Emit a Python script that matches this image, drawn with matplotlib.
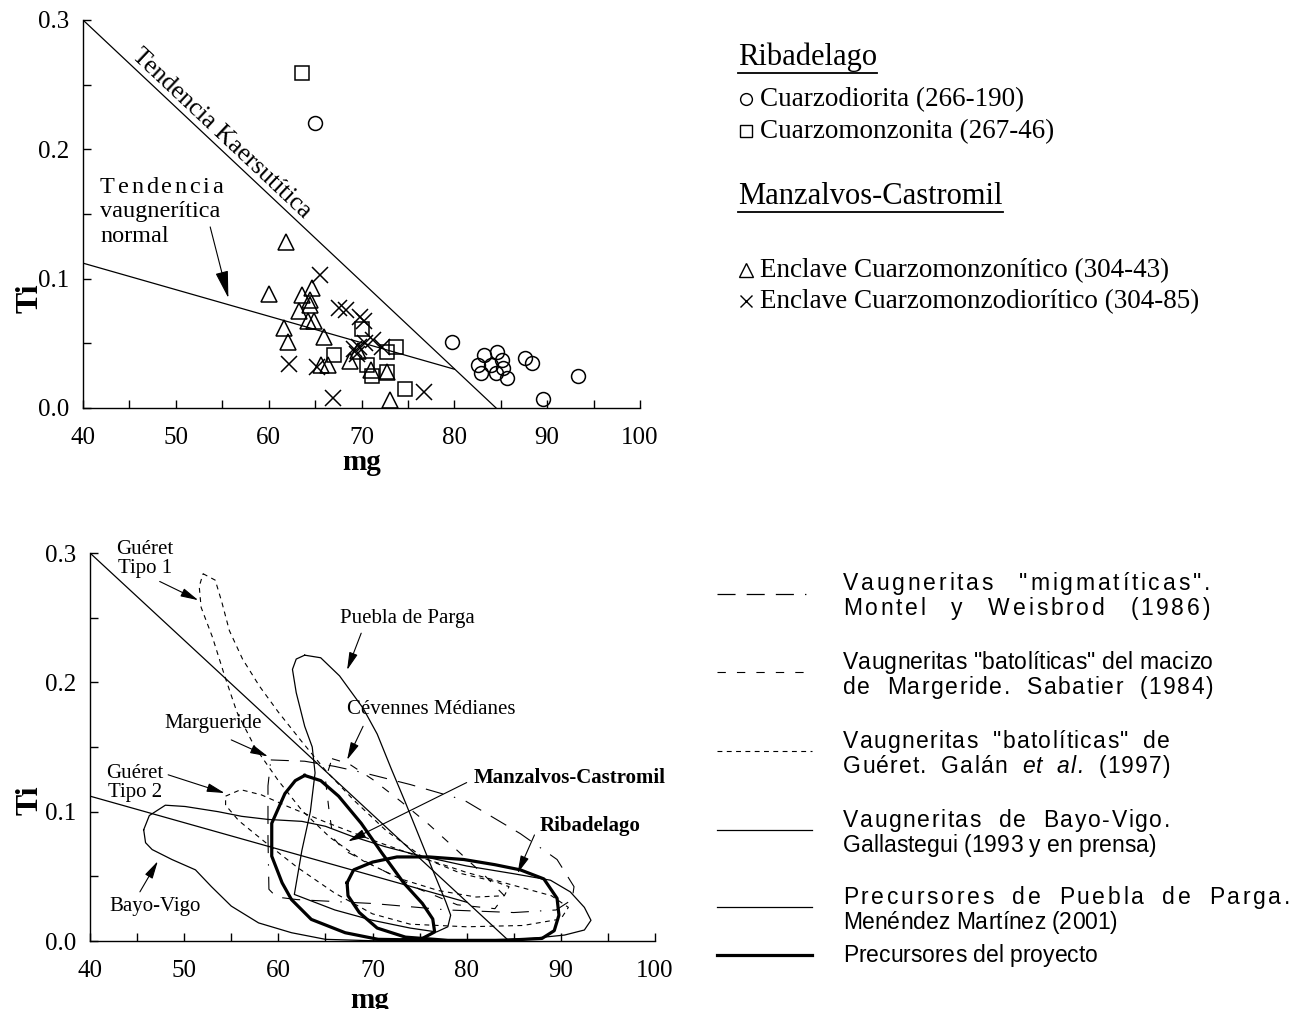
import math
import matplotlib
matplotlib.use("Agg")
import matplotlib.pyplot as plt
import numpy as np

plt.rcParams["font.family"] = ["Liberation Serif", "DejaVu Serif"]
plt.rcParams["lines.scale_dashes"] = False

# ---------------- data: upper diagram (Ti vs mg) ----------------
circ_mg = [65.0, 79.7, 83.2, 84.6, 82.6, 84.0, 85.1, 82.9, 84.5, 85.2, 85.7, 87.6, 88.4, 93.3, 89.5]
circ_ti = [0.220, 0.051, 0.041, 0.043, 0.033, 0.033, 0.037, 0.027, 0.027, 0.031, 0.023, 0.039, 0.035, 0.025, 0.007]

sq_mg = [63.6, 70.0, 67.0, 73.7, 72.7, 70.6, 71.1, 72.7, 74.7]
sq_ti = [0.259, 0.061, 0.041, 0.047, 0.043, 0.033, 0.025, 0.028, 0.015]

tri_mg = [61.9, 60.0, 63.6, 64.7, 64.5, 64.4, 63.3, 64.2, 64.9, 61.6, 62.1, 66.0, 65.6, 66.4, 68.8, 71.0, 72.7, 73.1, 69.6]
tri_ti = [0.128, 0.088, 0.087, 0.093, 0.0835, 0.080, 0.075, 0.0675, 0.067, 0.062, 0.051, 0.055, 0.033, 0.033, 0.036, 0.029, 0.028, 0.006, 0.044]

x_mg = [65.5, 67.6, 68.3, 69.8, 70.3, 71.2, 72.2, 69.2, 69.7, 70.4, 69.5, 62.2, 65.2, 66.9, 76.7]
x_ti = [0.103, 0.077, 0.076, 0.0705, 0.067, 0.0525, 0.047, 0.046, 0.047, 0.050, 0.042, 0.034, 0.032, 0.0075, 0.012]

# trend lines
kaers_mg = [40, 84.5]
kaers_ti = [0.3, 0.0]
vaug_mg = [40, 80]
vaug_ti = [0.112, 0.030]

# ---------------- data: lower diagram (fields) ----------------
g1_mg = [52.0, 53.3, 54.0, 54.8, 56.2, 58.0, 60.0, 62.4, 65.0, 68.0, 71.5, 75.5, 79.5, 83.0, 84.5, 84.0,
         81.0, 77.0, 73.0, 69.0, 65.5, 62.5, 60.0, 57.5, 55.6, 54.3, 53.0, 51.8, 51.6, 52.0]
g1_ti = [0.284, 0.279, 0.262, 0.240, 0.218, 0.197, 0.177, 0.155, 0.132, 0.109, 0.085, 0.064, 0.052, 0.046, 0.042, 0.035,
         0.034, 0.039, 0.048, 0.062, 0.080, 0.101, 0.124, 0.150, 0.177, 0.205, 0.235, 0.258, 0.274, 0.284]

g2_mg = [54.4, 56.0, 58.2, 61.0, 65.0, 70.0, 75.0, 80.0, 85.0, 89.0, 90.8, 90.0, 86.0, 80.0, 74.0, 70.0,
         66.0, 62.0, 58.5, 55.8, 54.4, 54.4]
g2_ti = [0.112, 0.117, 0.113, 0.104, 0.092, 0.078, 0.065, 0.053, 0.043, 0.035, 0.026, 0.017, 0.012, 0.011, 0.013, 0.021,
         0.037, 0.057, 0.077, 0.093, 0.105, 0.112]

marg_mg = [59.2, 62.8, 66.0, 69.1, 74.0, 79.7, 85.7, 89.6, 91.4, 91.2, 89.5, 85.0, 78.0, 70.0, 62.0, 59.8,
           59.0, 58.9, 58.9, 59.2]
marg_ti = [0.140, 0.139, 0.135, 0.130, 0.121, 0.109, 0.083, 0.063, 0.042, 0.032, 0.024, 0.022, 0.024, 0.029, 0.032, 0.034,
           0.040, 0.080, 0.120, 0.140]

cev_mg = [65.7, 67.5, 70.0, 73.0, 76.0, 79.0, 82.0, 84.0, 83.0, 79.0, 75.0, 71.0, 67.0, 65.8, 65.4, 65.0, 65.7]
cev_ti = [0.141, 0.137, 0.125, 0.108, 0.090, 0.070, 0.050, 0.035, 0.025, 0.028, 0.040, 0.055, 0.070, 0.080, 0.100, 0.125, 0.141]

bv_mg = [45.7, 46.3, 48.0, 50.1, 53.6, 56.1, 58.9, 62.5, 65.0, 67.8, 71.3, 75.0, 80.0, 85.0, 88.9, 91.0, 92.5,
         93.2, 92.5, 90.4, 86.9, 82.0, 75.0, 70.0, 65.0, 61.4, 57.9, 55.0, 52.9, 51.2, 48.7, 46.6, 45.9, 45.7]
bv_ti = [0.086, 0.097, 0.105, 0.104, 0.100, 0.0964, 0.094, 0.0925, 0.0887, 0.081, 0.073, 0.066, 0.058, 0.052, 0.047,
         0.038, 0.026, 0.016, 0.0085, 0.0046, 0.002, 0.0008, 0.0003, 0.0002, 0.0013, 0.0064, 0.014, 0.027, 0.042,
         0.055, 0.063, 0.0707, 0.076, 0.086]

pp_mg = [62.8, 64.5, 66.5, 69.0, 70.5, 72.0, 73.5, 75.0, 76.5, 77.8, 78.3, 78.0, 76.8, 74.0, 70.0, 66.0, 61.7,
         62.5, 63.4, 63.9, 63.6, 62.8, 61.9, 61.5, 61.9, 62.8]
pp_ti = [0.221, 0.219, 0.205, 0.180, 0.160, 0.133, 0.107, 0.080, 0.053, 0.030, 0.020, 0.011, 0.007, 0.010, 0.016,
         0.024, 0.036, 0.070, 0.100, 0.130, 0.150, 0.166, 0.192, 0.210, 0.218, 0.221]

mc_mg = [62.8, 64.5, 66.4, 68.8, 71.0, 73.3, 75.3, 76.4, 76.6, 75.3, 73.0, 70.6, 67.1, 63.5, 61.4, 60.4, 59.3,
         59.3, 60.7, 61.8, 62.8]
mc_ti = [0.128, 0.124, 0.112, 0.091, 0.068, 0.045, 0.029, 0.017, 0.007, 0.002, 0.001, 0.0013, 0.0064, 0.0167,
         0.032, 0.045, 0.0656, 0.091, 0.114, 0.124, 0.128]

rb_mg = [67.3, 68.0, 70.0, 72.6, 76.0, 79.7, 83.0, 85.7, 88.2, 89.6, 89.8, 89.3, 88.0, 84.0, 78.0, 73.5, 70.5,
         68.6, 67.4, 67.3]
rb_ti = [0.045, 0.055, 0.061, 0.065, 0.065, 0.063, 0.059, 0.055, 0.048, 0.033, 0.020, 0.008, 0.002, 0.0005,
         0.0005, 0.003, 0.010, 0.022, 0.035, 0.045]

W, H = 1295, 1009
fig = plt.figure(figsize=(W / 100, H / 100), dpi=100)
renderer = fig.canvas.get_renderer()

# line styles (dash patterns in points)
ls_montel = (0, (13, 8, 13, 8, 13, 8, 1, 8))
ls_sabatier = (0, (6, 8))
ls_galan = (0, (3.5, 3.2))


def style_axes(ax):
    ax.set_xlim(40, 100)
    ax.set_ylim(0, 0.3)
    ax.spines["top"].set_visible(False)
    ax.spines["right"].set_visible(False)
    ax.spines["left"].set_linewidth(1.0)
    ax.spines["bottom"].set_linewidth(1.0)
    ax.set_xticks(np.arange(40, 101, 10))
    ax.set_xticks(np.arange(45, 100, 10), minor=True)
    ax.set_yticks([0, 0.1, 0.2, 0.3])
    ax.set_yticklabels(["0.0", "0.1", "0.2", "0.3"])
    ax.set_yticks([0.05, 0.15, 0.25], minor=True)
    ax.tick_params(which="both", direction="in", length=6, width=1.0, labelsize=18)
    ax.tick_params(axis="x", pad=14)
    ax.tick_params(axis="y", pad=10)


def arrow(ax, tail, head, scale=12, hl=0.9, hw=0.22, lw=0.8):
    ax.annotate("", xy=head, xytext=tail,
                arrowprops=dict(arrowstyle=f"-|>,head_length={hl},head_width={hw}",
                                color="black", lw=lw, shrinkA=0, shrinkB=0,
                                mutation_scale=scale),
                annotation_clip=False)


# ---------------- upper diagram ----------------
ax1 = fig.add_axes([83 / W, 1 - 408 / H, 557 / W, 388 / H])
style_axes(ax1)
ax1.plot(kaers_mg, kaers_ti, color="black", lw=0.9)
ax1.plot(vaug_mg, vaug_ti, color="black", lw=0.9)
mk = dict(linestyle="none", mfc="none", mec="black", mew=1.1, clip_on=False, zorder=3)
ax1.plot(circ_mg, circ_ti, marker="o", ms=10, **mk)
ax1.plot(sq_mg, sq_ti, marker="s", ms=9.5, **mk)
ax1.plot(tri_mg, tri_ti, marker="^", ms=11.5, **mk)
ax1.plot(x_mg, x_ti, marker="x", ms=11, **mk)

p1 = ax1.transData.transform((kaers_mg[0], kaers_ti[0]))
p2 = ax1.transData.transform((kaers_mg[1], kaers_ti[1]))
ang = math.degrees(math.atan2(p2[1] - p1[1], p2[0] - p1[0]))
ax1.text(54.9, 0.212, "Tendencia Kaersutítica", fontsize=18.5, rotation=ang,
         rotation_mode="anchor", ha="center", va="center")
arrow(ax1, (53.7, 0.140), (55.66, 0.085), scale=20, hl=0.85, hw=0.2, lw=0.8)

# ---------------- lower diagram ----------------
ax2 = fig.add_axes([90 / W, 1 - 941 / H, 565 / W, 388 / H])
style_axes(ax2)
ax2.plot(kaers_mg, kaers_ti, color="black", lw=0.9)
ax2.plot(vaug_mg, vaug_ti, color="black", lw=0.9)
ax2.plot(g1_mg, g1_ti, color="black", lw=0.8, linestyle=ls_galan)
ax2.plot(g2_mg, g2_ti, color="black", lw=0.8, linestyle=ls_galan)
ax2.plot(marg_mg, marg_ti, color="black", lw=0.8, linestyle=ls_montel)
ax2.plot(cev_mg, cev_ti, color="black", lw=0.8, linestyle=ls_sabatier)
ax2.plot(bv_mg, bv_ti, color="black", lw=0.9)
ax2.plot(pp_mg, pp_ti, color="black", lw=0.9)
ax2.plot(mc_mg, mc_ti, color="black", lw=2.3, clip_on=False)
ax2.plot(rb_mg, rb_ti, color="black", lw=2.3, clip_on=False)

lab = dict(fontsize=15, ha="center", va="center")
ax2.text(45.8, 0.295, "Guéret\nTipo 1", linespacing=1.0, **lab)
ax2.text(44.8, 0.122, "Guéret\nTipo 2", linespacing=1.0, **lab)
ax2.text(53.1, 0.168, "Margueride", **lab)
ax2.text(46.9, 0.027, "Bayo-Vigo", **lab)
ax2.text(73.7, 0.2495, "Puebla de Parga", **lab)
ax2.text(76.2, 0.1787, "Cévennes Médianes", **lab)
ax2.text(90.9, 0.1258, "Manzalvos-Castromil", fontweight="bold", clip_on=False, **lab)
ax2.text(93.1, 0.089, "Ribadelago", fontweight="bold", **lab)

arrow(ax2, (47.4, 0.278), (51.5, 0.2635))
arrow(ax2, (55.0, 0.1555), (58.9, 0.1427))
arrow(ax2, (48.3, 0.1285), (54.3, 0.1144))
arrow(ax2, (45.3, 0.038), (47.2, 0.0617))
arrow(ax2, (68.8, 0.238), (67.3, 0.2095))
arrow(ax2, (69.0, 0.166), (67.3, 0.140))
arrow(ax2, (80.0, 0.1225), (67.4, 0.077))
arrow(ax2, (87.2, 0.082), (85.4, 0.0523))

# ---------------- overlay in pixel coordinates ----------------
lax = fig.add_axes([0, 0, 1, 1])
lax.set_xlim(0, W)
lax.set_ylim(H, 0)
lax.axis("off")
lax.patch.set_visible(False)


def spaced_text(x0, y, parts, target=None, size=16.5, family="Liberation Sans", word_weight=5.0):
    # lay the characters one by one, spreading extra space (more at word gaps)
    chars = [(c, st) for s, st in parts for c in s]
    probe = lax.text(0, 0, "HH", fontsize=size, family=family)
    adv = []
    for c, st in chars:
        probe.set_fontstyle(st)
        probe.set_text("HH")
        w0 = probe.get_window_extent(renderer).width
        probe.set_text("H" + c + "H")
        adv.append(probe.get_window_extent(renderer).width - w0)
    probe.remove()
    weights = [1.0 + (word_weight if c == " " else 0.0) for c, _ in chars[:-1]]
    unit = 0.0
    if target is not None and weights:
        unit = (target - sum(adv)) / sum(weights)
    x = x0
    for i, ((c, st), a) in enumerate(zip(chars, adv)):
        if c != " ":
            lax.text(x, y, c, fontsize=size, family=family, style=st,
                     ha="left", va="baseline")
        if i < len(weights):
            x += a + unit * weights[i]


# axis titles
for cx, cy in [(30, 298), (30, 800)]:
    lax.text(cx, cy, "Ti", fontsize=23, fontweight="bold", rotation=90, ha="center", va="center")
for cx, cy in [(362, 463), (370, 1001)]:
    lax.text(cx, cy, "mg", fontsize=21, fontweight="bold", ha="center", va="center")

# label "Tendencia vaugnerítica normal"
spaced_text(100, 193, [("Tendencia", "normal")], target=123, size=17.5,
            family="Liberation Serif", word_weight=0)
lax.text(100, 217, "vaugnerítica", fontsize=17.5, ha="left", va="baseline")
lax.text(100, 242, "normal", fontsize=17.5, ha="left", va="baseline")


# upper legend
def header(x, y, s):
    t = lax.text(x, y, s, fontsize=22, ha="left", va="baseline")
    w = t.get_window_extent(renderer).width
    lax.plot([x, x + w], [y + 8, y + 8], color="black", lw=1.3)


header(738, 65, "Ribadelago")
header(738, 204, "Manzalvos-Castromil")
leg_mk = dict(linestyle="none", mfc="none", mec="black", mew=1.0)
lax.plot(746, 99, marker="o", ms=8.5, **leg_mk)
lax.plot(746, 131, marker="s", ms=8, **leg_mk)
lax.plot(746, 270, marker="^", ms=9.5, **leg_mk)
lax.plot(746, 301, marker="x", ms=9, **leg_mk)
for y, s in [(106, "Cuarzodiorita (266-190)"), (138, "Cuarzomonzonita (267-46)"),
             (277, "Enclave Cuarzomonzonítico (304-43)"), (308, "Enclave Cuarzomonzodiorítico (304-85)")]:
    lax.text(760, y, s, fontsize=19.5, ha="left", va="baseline")

# lower legend
samples = [(594, ls_montel, 0.9), (672, ls_sabatier, 0.8), (751, ls_galan, 0.8),
           (830, "-", 0.9), (907, "-", 0.9), (955, "-", 2.3)]
for y, ls, lw in samples:
    lax.plot([717, 812], [y, y], color="black", linestyle=ls, lw=lw)

rows = [
    (590, [('Vaugneritas "migmatíticas".', "normal")], 367),
    (615, [("Montel y Weisbrod (1986)", "normal")], 367),
    (669, [('Vaugneritas "batolíticas" del macizo', "normal")], 370),
    (694, [("de Margeride. Sabatier (1984)", "normal")], 370),
    (748, [('Vaugneritas "batolíticas" de', "normal")], 327),
    (773, [("Guéret. Galán ", "normal"), ("et al.", "italic"), (" (1997)", "normal")], 327),
    (827, [("Vaugneritas de Bayo-Vigo.", "normal")], 327),
    (852, [("Gallastegui (1993 y en prensa)", "normal")], None),
    (904, [("Precursores de Puebla de Parga.", "normal")], 447),
    (929, [("Menéndez Martínez (2001)", "normal")], None),
    (962, [("Precursores del proyecto", "normal")], None),
]
for y, parts, target in rows:
    spaced_text(843, y, parts, target=target, word_weight=2.5 if target == 447 else 5.0)

fig.savefig("out.png", dpi=100)
